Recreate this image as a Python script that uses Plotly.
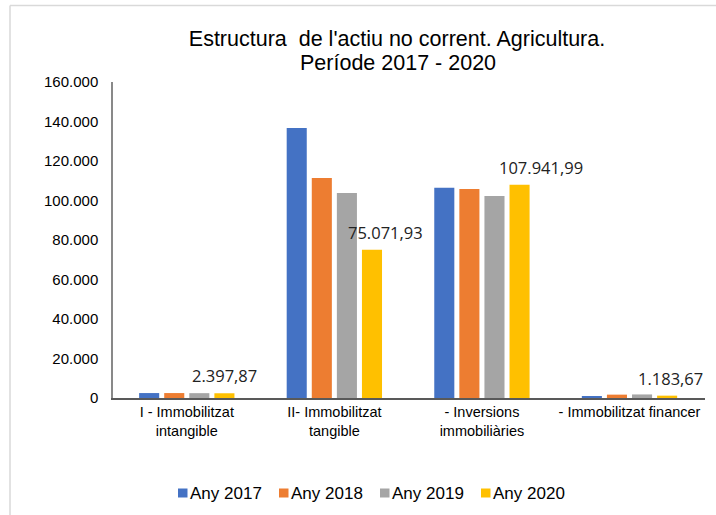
import plotly.graph_objects as go

categories = ["I - Immobilitzat<br>intangible", "II- Immobilitzat<br>tangible",
              "- Inversions<br>immobiliàries", "- Immobilitzat financer"]
any_2017 = [2500, 136700, 106500, 900]
any_2018 = [2500, 111400, 105800, 1700]
any_2019 = [2450, 103800, 102300, 1800]
any_2020 = [2397.87, 75071.93, 107941.99, 1183.67]
series_names = ["Any 2017", "Any 2018", "Any 2019", "Any 2020"]
colors = ["#4472C4", "#ED7D31", "#A5A5A5", "#FFC000"]
y_ticks = [0, 20000, 40000, 60000, 80000, 100000, 120000, 140000, 160000]
title_line1 = "Estructura  de l'actiu no corrent. Agricultura."
title_line2 = "Període 2017 - 2020"

label_xshift = [38, 51, 59, 41]  # px from group centre to label centre

def fmt(v):
    s = f"{v:,.2f}"
    return s.replace(",", "X").replace(".", ",").replace("X", ".")

fig = go.Figure()
for name, vals, col in zip(series_names, [any_2017, any_2018, any_2019, any_2020], colors):
    fig.add_trace(go.Bar(name=name, x=categories, y=vals, marker_color=col,
                         marker_line_width=0, showlegend=False))

for cat, v, xs in zip(categories, any_2020, label_xshift):
    fig.add_annotation(x=cat, y=v, xref="x", yref="y", text=fmt(v), showarrow=False,
                       xshift=xs, yshift=4, yanchor="bottom",
                       font=dict(family="Open Sans", size=16.5, color="#222"))

L, R, T, B = 113, 11, 82, 117
W, H = 716, 515
pw, ph = W - L - R, H - T - B
px_x = lambda px: (px - L) / pw
px_y = lambda py: (H - B - py) / ph

# chart-area border (top and left edges visible)
fig.add_shape(type="line", xref="paper", yref="paper", x0=px_x(10), x1=px_x(720),
              y0=px_y(5.5), y1=px_y(5.5), line=dict(color="#d9d9d9", width=1.5))
fig.add_shape(type="line", xref="paper", yref="paper", x0=px_x(10), x1=px_x(10),
              y0=px_y(5.5), y1=px_y(520), line=dict(color="#d9d9d9", width=1.5))

# second title line
title_font = dict(family="Liberation Sans", size=21.5, color="#000")
fig.add_annotation(text=title_line2, xref="paper", yref="paper", x=px_x(398), y=px_y(63),
                   xanchor="center", yanchor="middle", showarrow=False, font=title_font)

# legend (Excel-style: small square right next to the text)
leg_x0, leg_pitch, leg_y = 178, 101, 493
for i, (name, col) in enumerate(zip(series_names, colors)):
    mx = leg_x0 + leg_pitch * i
    fig.add_shape(type="rect", xref="paper", yref="paper",
                  x0=px_x(mx), x1=px_x(mx + 9.5), y0=px_y(leg_y - 4.5), y1=px_y(leg_y + 4.5),
                  fillcolor=col, line_width=0)
    fig.add_annotation(text=name, xref="paper", yref="paper", x=px_x(mx + 9.5),
                       y=px_y(leg_y), xanchor="left", yanchor="middle", showarrow=False,
                       font=dict(family="Liberation Sans", size=17, color="#000"))

fig.update_layout(
    width=W, height=H,
    margin=dict(l=L, r=R, t=T, b=B, autoexpand=False),
    paper_bgcolor="white", plot_bgcolor="white",
    separators=",.",
    barmode="group", bargap=0.32, bargroupgap=0.2,
    title=dict(text=title_line1, x=397 / W, xanchor="center", y=1 - 38.5 / H,
               yanchor="middle", font=title_font),
    font=dict(family="Liberation Sans", size=14, color="#000"),
    showlegend=False,
)
fig.update_xaxes(showline=True, linecolor="#595959", linewidth=1.5, ticks="",
                 tickfont=dict(family="Liberation Sans", size=14.5, color="#000"))
fig.update_yaxes(range=[0, 160000], tickvals=y_ticks, tickformat=",d", showgrid=False,
                 showline=True, linecolor="#898989", linewidth=1.5, ticks="",
                 ticklabelstandoff=10, zeroline=False,
                 tickfont=dict(family="Liberation Sans", size=15, color="#000"))

fig.write_html("out.html", config={"displayModeBar": False},
               post_script="document.body.style.margin='0';")
